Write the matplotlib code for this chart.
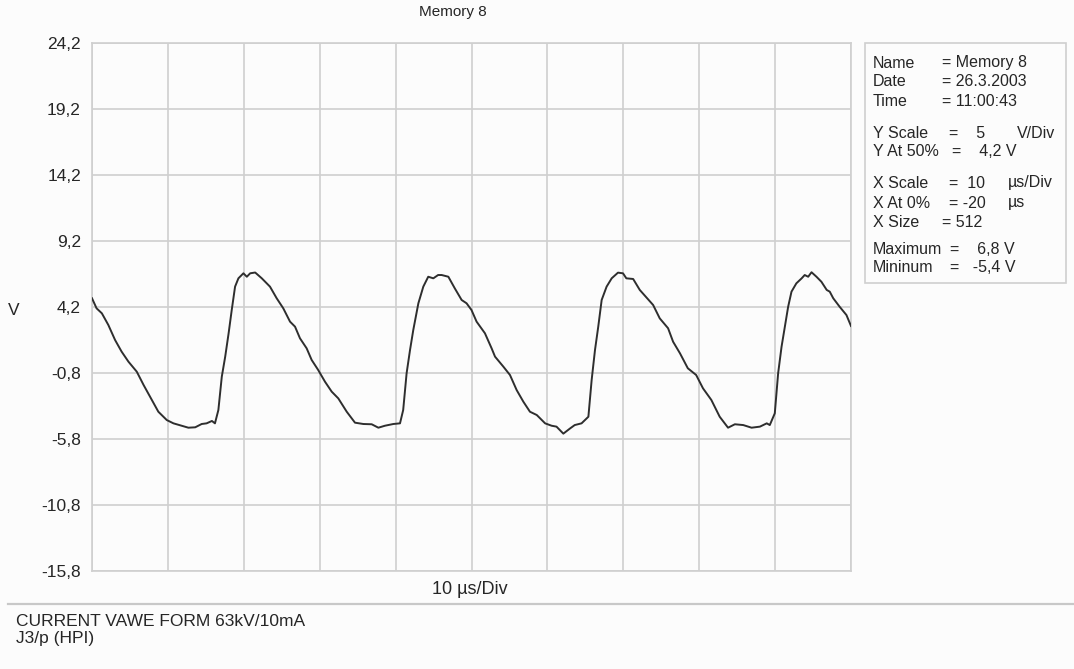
import matplotlib
matplotlib.use("Agg")
import matplotlib.pyplot as plt
from matplotlib.patches import Rectangle
from matplotlib.lines import Line2D

# Sampled trace of memory 8 (time in microseconds, voltage in volts)
time_us = [
    -20.0, -19.4, -18.7, -17.85, -16.96, -16.1, -15.2, -14.1, -13.2, -12.36,
    -11.26, -10.15, -9.27, -8.18, -7.3, -6.4, -5.55, -4.9, -4.2, -3.8,
    -3.35, -2.9, -2.45, -2.0, -1.59, -1.15, -0.71, -0.05, 0.4, 0.84,
    1.5, 2.37, 3.45, 4.33, 5.2, 6.09, 6.75, 7.4, 8.28, 8.94,
    9.8, 10.7, 11.58, 12.45, 13.56, 14.65, 15.75, 16.85, 17.73, 18.6,
    19.7, 20.58, 21.0, 21.45, 21.9, 22.33, 23.0, 23.65, 24.3, 24.97,
    25.6, 26.07, 26.95, 27.8, 28.7, 29.35, 30.0, 30.67, 31.77, 32.65,
    33.1, 34.2, 35.07, 35.95, 36.83, 37.7, 38.6, 39.7, 40.55, 41.2,
    42.1, 43.0, 43.6, 44.5, 45.4, 45.83, 46.27, 46.7, 47.15, 47.8,
    48.47, 49.3, 49.96, 50.4, 51.3, 52.17, 53.27, 53.93, 54.8, 55.9,
    56.56, 57.47, 58.5, 59.6, 60.5, 61.6, 62.7, 63.8, 64.7, 65.8,
    66.9, 68.0, 68.9, 69.3, 69.96, 70.4, 70.85, 71.28, 71.72, 72.16,
    72.8, 73.5, 73.9, 74.36, 74.8, 75.45, 76.1, 76.8, 77.2, 77.66,
    78.5, 79.4, 80.0,
]
voltage_v = [
    4.85, 4.09, 3.71, 2.83, 1.69, 0.81, 0.05, -0.71, -1.72, -2.60,
    -3.74, -4.37, -4.62, -4.80, -4.95, -4.92, -4.67, -4.62, -4.44, -4.62,
    -3.61, -1.09, 0.43, 2.2, 3.96, 5.73, 6.36, 6.74, 6.48, 6.74,
    6.8, 6.36, 5.73, 4.85, 4.09, 3.08, 2.70, 1.82, 1.06, 0.18,
    -0.58, -1.47, -2.22, -2.73, -3.74, -4.57, -4.67, -4.69, -4.95, -4.80,
    -4.67, -4.62, -3.61, -0.83, 0.93, 2.45, 4.47, 5.73, 6.48, 6.36,
    6.61, 6.61, 6.48, 5.6, 4.72, 4.47, 3.96, 3.08, 2.2, 1.06,
    0.43, -0.33, -0.96, -2.1, -2.98, -3.74, -3.99, -4.62, -4.80, -4.87,
    -5.4, -5.0, -4.75, -4.62, -4.12, -1.34, 0.93, 2.70, 4.72, 5.73,
    6.36, 6.79, 6.74, 6.36, 6.31, 5.48, 4.77, 4.34, 3.33, 2.58,
    1.56, 0.68, -0.45, -0.96, -1.97, -2.85, -4.12, -4.95, -4.69, -4.75,
    -4.95, -4.87, -4.62, -4.75, -3.86, -0.83, 1.18, 2.70, 4.21, 5.35,
    5.98, 6.36, 6.61, 6.48, 6.82, 6.48, 6.1, 5.48, 5.35, 4.85,
    4.21, 3.58, 2.75,
]

y_ticks = [24.2, 19.2, 14.2, 9.2, 4.2, -0.8, -5.8, -10.8, -15.8]
y_tick_labels = ["24,2", "19,2", "14,2", "9,2", "4,2", "-0,8", "-5,8", "-10,8", "-15,8"]
x_ticks = [-20, -10, 0, 10, 20, 30, 40, 50, 60, 70, 80]

W, H = 1074, 669
BG = "#fcfcfc"
GRID = "#cfcfcf"
TXT = "#262626"
TRACE = "#2e2e2e"

plt.rcParams["font.family"] = ["Liberation Sans", "DejaVu Sans"]

fig = plt.figure(figsize=(W / 100, H / 100), dpi=100, facecolor=BG)


def fx(px):
    return px / W


def fy(py):
    return 1 - py / H


ax_left, ax_right, ax_top, ax_bot = 92, 851, 42.7, 571
ax = fig.add_axes([fx(ax_left), fy(ax_bot), fx(ax_right - ax_left), (ax_bot - ax_top) / H])
ax.set_facecolor(BG)
ax.set_xlim(-20, 80)
ax.set_ylim(-15.8, 24.2)
ax.set_xticks(x_ticks)
ax.set_yticks(y_ticks)
ax.set_yticklabels(y_tick_labels)
ax.tick_params(axis="x", length=0, labelbottom=False)
ax.tick_params(axis="y", length=0, pad=8, labelsize=12.5, labelcolor=TXT)
ax.grid(True, color=GRID, linewidth=1.2)
for s in ax.spines.values():
    s.set_color(GRID)
    s.set_linewidth(1.2)

ax.plot(time_us, voltage_v, color=TRACE, linewidth=1.4, zorder=3)

fs = 12.5
fig.text(fx(453), fy(12), "Memory 8", ha="center", va="center", fontsize=11, color=TXT)
fig.text(fx(8), fy(311), "V", ha="left", va="center", fontsize=fs, color=TXT)
fig.text(fx(470), fy(590), "10 µs/Div", ha="center", va="center", fontsize=13, color=TXT)

# separator above the comment area
fig.add_artist(Line2D([fx(8), fx(1074)], [fy(604), fy(604)], color="#c8c8c8", linewidth=1.6))
fig.text(fx(16), fy(622), "CURRENT VAWE FORM 63kV/10mA", ha="left", va="center", fontsize=fs, color=TXT)
fig.text(fx(16), fy(639), "J3/p (HPI)", ha="left", va="center", fontsize=fs, color=TXT)

# information panel
fig.add_artist(Rectangle((fx(865), fy(283)), fx(1066 - 865), (283 - 42.7) / H,
                         facecolor=BG, edgecolor=GRID, linewidth=1.2))

fi = 11.5
rows = [
    (63, "Name", 942, "= Memory 8", None, None),
    (82, "Date", 942, "= 26.3.2003", None, None),
    (102, "Time", 942, "= 11:00:43", None, None),
    (133, "Y Scale", 949, "=    5", 1017, "V/Div"),
    (152, "Y At 50%", 952, "=    4,2 V", None, None),
    (183, "X Scale", 949, "=  10", 1008, "µs/Div"),
    (203, "X At 0%", 949, "= -20", 1008, "µs"),
    (223, "X Size", 942, "= 512", None, None),
    (250, "Maximum", 950, "=    6,8 V", None, None),
    (268, "Mininum", 950, "=   -5,4 V", None, None),
]
for y, label, xv, value, xu, unit in rows:
    fig.text(fx(873), fy(y), label, ha="left", va="center", fontsize=fi, color=TXT)
    fig.text(fx(xv), fy(y), value, ha="left", va="center", fontsize=fi, color=TXT)
    if unit:
        fig.text(fx(xu), fy(y), unit, ha="left", va="center", fontsize=fi, color=TXT)

fig.savefig("out.png", dpi=100, facecolor=BG)
